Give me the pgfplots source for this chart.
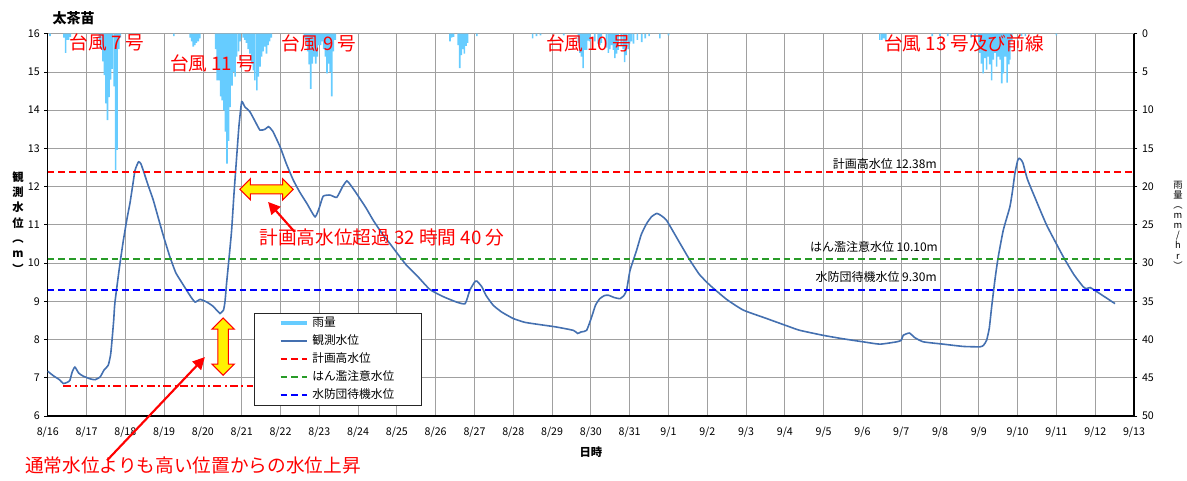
\documentclass[border=0pt]{standalone}
\usepackage{fontspec}
\setmainfont{Noto Sans CJK JP}
\usepackage{pgfplots}
\pgfplotsset{compat=1.18}
\usetikzlibrary{arrows.meta,shapes.arrows}
\definecolor{rainblue}{RGB}{102,204,255}
\definecolor{lvlblue}{RGB}{68,112,176}
\definecolor{refred}{RGB}{255,0,0}
\definecolor{refgreen}{RGB}{40,155,40}
\definecolor{refblue}{RGB}{0,0,255}
\definecolor{gridgray}{RGB}{160,160,160}
\begin{document}
\begin{tikzpicture}
\useasboundingbox (0,0) rectangle (890.25pt,360pt);
\begin{axis}[
  at={(35.8pt,48pt)}, anchor=south west,
  scale only axis, width=814.7pt, height=286.7pt,
  xmin=0, xmax=28, ymin=6, ymax=16,
  axis x line*=bottom, axis y line*=left,
  axis line style={black, line width=0.9pt},
  xtick={0,1,...,28},
  xticklabels={8/16,8/17,8/18,8/19,8/20,8/21,8/22,8/23,8/24,8/25,8/26,8/27,8/28,8/29,8/30,8/31,9/1,9/2,9/3,9/4,9/5,9/6,9/7,9/8,9/9,9/10,9/11,9/12,9/13},
  ytick={6,7,...,16},
  xtick style={draw=none},
  ytick style={black, line width=0.6pt},
  tick align=outside, major tick length=2.5pt,
  grid=major, grid style={gridgray, line width=0.6pt},
  tick label style={font=\fontsize{8}{9}\selectfont},
  xticklabel style={yshift=-2pt},
  /pgf/number format/assume math mode=true,
  clip=false,
  legend cell align=left,
  legend image code/.code={\draw[#1] (0pt,0pt) -- (20pt,0pt);},
  legend style={at={(axis cs:5.317,6.28)}, anchor=south west, draw=black!85, fill=white, font=\fontsize{8.8}{10}\selectfont, inner xsep=18pt, inner ysep=0.8pt, row sep=0pt, nodes={inner ysep=2.3pt}},
]
\addplot[color=lvlblue, line width=1.2pt, smooth, tension=0.3, forget plot] coordinates {
(0,7.17) (0.15,7.05) (0.3,6.95) (0.40,6.85) (0.50,6.88) (0.57,6.93) (0.63,7.15) (0.70,7.28) (0.80,7.12) (0.92,7.04) (1.1,6.97) (1.22,6.95) (1.35,7.02) (1.45,7.2) (1.56,7.33) (1.62,7.6) (1.65,7.9) (1.70,8.5) (1.73,8.95) (1.85,9.9) (1.95,10.6) (2.05,11.2) (2.12,11.57) (2.2,12.1) (2.25,12.43) (2.34,12.65) (2.40,12.6) (2.46,12.43) (2.6,12.0) (2.72,11.65) (2.9,11.0) (3.0,10.65) (3.15,10.16) (3.3,9.75) (3.45,9.5) (3.58,9.29) (3.7,9.1) (3.80,8.98) (3.93,9.05) (4.10,8.98) (4.25,8.88) (4.40,8.72) (4.44,8.68) (4.53,8.77) (4.57,9.0) (4.61,9.47) (4.68,10.2) (4.74,10.86) (4.80,11.8) (4.87,12.78) (4.93,13.6) (5.0,14.22) (5.08,14.09) (5.21,13.96) (5.35,13.7) (5.47,13.48) (5.6,13.5) (5.69,13.57) (5.8,13.45) (5.99,13.04) (6.15,12.6) (6.33,12.17) (6.5,11.85) (6.68,11.56) (6.89,11.21) (7.0,11.45) (7.10,11.75) (7.28,11.78) (7.45,11.72) (7.6,12.0) (7.71,12.15) (7.8,12.05) (7.96,11.82) (8.2,11.45) (8.39,11.12) (8.6,10.8) (8.82,10.51) (9.08,10.16) (9.25,9.94) (9.51,9.68) (9.85,9.31) (10.2,9.12) (10.54,8.98) (10.76,8.94) (10.88,9.29) (11.0,9.5) (11.06,9.53) (11.19,9.38) (11.3,9.15) (11.48,8.9) (11.7,8.72) (12.0,8.55) (12.3,8.45) (12.69,8.39) (13.1,8.33) (13.55,8.24) (13.66,8.16) (13.75,8.2) (13.89,8.24) (14.02,8.59) (14.12,8.9) (14.23,9.07) (14.35,9.15) (14.45,9.16) (14.6,9.1) (14.75,9.07) (14.85,9.15) (14.92,9.29) (15.01,9.81) (15.18,10.34) (15.3,10.75) (15.44,11.04) (15.57,11.22) (15.70,11.30) (15.8,11.25) (15.95,11.12) (16.25,10.6) (16.55,10.08) (16.8,9.7) (17.07,9.42) (17.5,9.05) (17.93,8.77) (18.53,8.55) (19.13,8.33) (19.39,8.24) (19.99,8.11) (20.5,8.02) (21.02,7.94) (21.45,7.88) (21.88,7.94) (22.0,7.98) (22.05,8.11) (22.21,8.17) (22.35,8.05) (22.57,7.94) (23.08,7.88) (23.6,7.82) (24.03,7.81) (24.12,7.85) (24.2,7.98) (24.27,8.3) (24.33,8.85) (24.42,9.6) (24.50,10.16) (24.63,10.86) (24.80,11.47) (24.87,11.9) (24.93,12.35) (25.0,12.68) (25.04,12.74) (25.09,12.7) (25.14,12.61) (25.25,12.2) (25.44,11.73) (25.75,10.99) (26.18,10.16) (26.45,9.7) (26.69,9.38) (26.78,9.33) (26.87,9.36) (27.12,9.20) (27.51,8.94)
};
\addplot[color=refred, line width=1.2pt, dash pattern=on 5pt off 3pt, forget plot] coordinates {(0,12.38) (28,12.38)};
\addplot[color=refgreen, line width=1.2pt, dash pattern=on 5pt off 3pt, forget plot] coordinates {(0,10.10) (28,10.10)};
\addplot[color=refblue, line width=1.2pt, dash pattern=on 5pt off 3pt, forget plot] coordinates {(0,9.30) (28,9.30)};
\addplot[color=refred, line width=1.1pt, dash pattern=on 6pt off 2.5pt on 1.5pt off 2.5pt, forget plot] coordinates {(0.4,6.78) (5.3,6.78)};
\addlegendimage{color=rainblue, line width=3.5pt}
\addlegendentry{雨量}
\addlegendimage{color=lvlblue, line width=1.3pt}
\addlegendentry{観測水位}
\addlegendimage{color=refred, line width=1.3pt, dash pattern=on 5pt off 3pt}
\addlegendentry{計画高水位}
\addlegendimage{color=refgreen, line width=1.3pt, dash pattern=on 5pt off 3pt}
\addlegendentry{はん濫注意水位}
\addlegendimage{color=refblue, line width=1.3pt, dash pattern=on 5pt off 3pt}
\addlegendentry{水防団待機水位}
% labels of reference lines
\node[anchor=base east, yshift=2.5pt, inner sep=0pt, font=\fontsize{9}{10}\selectfont] at (axis cs:22.92,12.38) {計画高水位 12.38m};
\node[anchor=base east, yshift=6pt, inner sep=0pt, font=\fontsize{9}{10}\selectfont] at (axis cs:22.95,10.10) {はん濫注意水位 10.10m};
\node[anchor=base east, yshift=6pt, inner sep=0pt, font=\fontsize{9}{10}\selectfont] at (axis cs:22.92,9.30) {水防団待機水位 9.30m};
% annotations
\node[double arrow, draw=refred, fill=yellow, line width=0.8pt, minimum height=40pt, inner xsep=0pt, inner ysep=3pt, double arrow head extend=4.5pt, double arrow head indent=0pt] at (axis cs:5.64,11.93) {};
\node[double arrow, rotate=90, draw=refred, fill=yellow, line width=0.8pt, minimum height=43pt, inner xsep=0pt, inner ysep=3.5pt, double arrow head extend=4.5pt, double arrow head indent=0pt] at (axis cs:4.52,7.815) {};
\draw[refred, line width=1.6pt, -{Triangle[length=9pt,width=9pt]}] (axis cs:6.37,10.81) -- (axis cs:5.68,11.60);
\draw[refred, line width=1.6pt, -{Triangle[length=9pt,width=9pt]}] (axis cs:1.53,4.84) -- (axis cs:4.05,7.54);
\node[anchor=west, text=refred, inner sep=0pt, font=\fontsize{14}{16}\selectfont] at (axis cs:5.45,10.68) {計画高水位超過 32 時間 40 分};
\node[anchor=west, text=refred, inner sep=0pt, font=\fontsize{14}{16}\selectfont] at (axis cs:-0.585,4.71) {通常水位よりも高い位置からの水位上昇};
% titles
\node[font=\fontsize{10.5}{12}\selectfont\bfseries] at (axis description cs:0.0238,1.041) {太茶苗};
\node[font=\fontsize{8.5}{11.5}\selectfont\bfseries, align=center, inner sep=0pt] at (axis description cs:-0.0273,0.507) {観\\測\\水\\位\\︵\\m\\︶};
\node[font=\fontsize{8.5}{10}\selectfont\bfseries] at (axis description cs:0.5,-0.094) {日時};
\end{axis}
\begin{axis}[
  at={(35.8pt,48pt)}, anchor=south west,
  scale only axis, width=814.7pt, height=286.7pt,
  xmin=0, xmax=28, ymin=0, ymax=50, y dir=reverse,
  axis x line=none, axis y line*=right,
  axis line style={black, line width=0.9pt},
  ytick={0,5,...,50},
  tick align=outside, major tick length=2.5pt,
  ytick style={black, line width=0.6pt},
  tick label style={font=\fontsize{8}{9}\selectfont},
  /pgf/number format/assume math mode=true,
  clip=false,
]
\addplot[ybar, bar width=0.042, bar shift=0pt, fill=rainblue, draw=none] coordinates {
(0.06,0.3) (0.42,0.5) (0.46,2.5) (0.50,0.8) (0.54,0.8) (0.58,0.4)
(1.33,1.0) (1.37,2.0) (1.42,3.6) (1.46,5.4) (1.50,9.1) (1.54,11.3) (1.58,8.3) (1.62,6.0) (1.66,4.6) (1.71,6.9) (1.75,17.8) (1.79,15.2) (1.83,2.0) (1.87,0.5)
(3.25,0.3) (3.67,0.5) (3.71,1.0) (3.75,1.7) (3.79,1.5) (3.83,1.2) (3.88,1.0) (3.92,0.6)
(4.33,2.0) (4.37,6.1) (4.41,6.1) (4.46,8.2) (4.50,8.7) (4.54,10.0) (4.58,12.8) (4.62,17.0) (4.66,14.0) (4.70,9.6) (4.75,6.8) (4.79,5.0) (4.83,5.6) (4.87,3.0) (4.92,2.3) (4.96,1.0)
(5.04,0.5) (5.08,0.8) (5.12,1.2) (5.17,2.0) (5.21,2.6) (5.26,3.9) (5.30,4.8) (5.34,6.1) (5.39,7.4) (5.43,5.6) (5.47,4.3) (5.51,3.0) (5.55,2.3) (5.60,1.7) (5.64,2.6) (5.68,1.5) (5.72,1.0) (5.76,0.5)
(6.62,0.5) (6.66,1.0) (6.70,2.3) (6.74,4.0) (6.78,7.2) (6.82,3.9) (6.86,3.0) (6.91,3.9) (6.95,3.0) (6.99,1.5) (7.03,1.5) (7.07,1.0) (7.11,2.0) (7.16,3.0) (7.20,5.2) (7.24,3.9) (7.28,5.0) (7.32,8.2) (7.36,2.3) (7.41,0.8)
(10.37,1.0) (10.41,0.5) (10.46,0.4) (10.58,1.5) (10.62,4.5) (10.66,2.8) (10.70,2.0) (10.74,2.6) (10.78,1.6) (10.82,1.2) (11.06,0.3)
(12.50,0.6) (12.60,0.3) (12.70,0.2) (13.30,0.2) (13.68,1.2) (13.72,2.5) (13.76,3.0) (13.80,4.5) (13.85,2.1) (13.89,2.1) (13.93,0.9) (13.97,1.0) (14.10,1.0) (14.19,1.3) (14.23,1.5) (14.27,1.2) (14.40,1.8) (14.45,2.5) (14.49,2.0) (14.53,1.5) (14.58,2.1) (14.62,3.2) (14.66,2.6) (14.70,2.1) (14.78,1.6) (14.83,2.0) (14.87,3.7) (14.91,2.8) (14.96,2.0) (15.00,1.3) (15.04,1.0) (15.10,1.3) (15.20,0.8) (15.31,1.1) (15.40,0.6) (15.50,0.3) (15.78,0.6) (16.00,0.2)
(21.45,0.8) (21.50,0.8) (21.55,0.6) (21.60,0.8) (22.80,0.3) (23.00,0.3) (23.20,0.3) (23.80,0.5) (23.90,0.5) (24.00,1.5) (24.03,2.5) (24.07,3.9) (24.11,5.2) (24.16,3.2) (24.20,4.7) (24.24,3.0) (24.28,4.0) (24.33,6.1) (24.37,3.4) (24.41,2.5) (24.46,4.3) (24.50,3.0) (24.55,3.4) (24.59,6.5) (24.63,5.2) (24.68,3.0) (24.73,6.4) (24.77,4.0) (24.80,3.4) (24.85,0.8) (25.10,0.3) (25.20,0.3) (26.00,0.2)
};
\node[text=refred, inner sep=0pt, font=\fontsize{14}{16}\selectfont] at (axis cs:1.53,1.1) {台風 7 号};
\node[text=refred, inner sep=0pt, font=\fontsize{14}{16}\selectfont] at (axis cs:4.25,3.84) {台風 11 号};
\node[text=refred, inner sep=0pt, font=\fontsize{14}{16}\selectfont] at (axis cs:6.99,1.2) {台風 9 号};
\node[text=refred, inner sep=0pt, font=\fontsize{14}{16}\selectfont] at (axis cs:13.94,1.2) {台風 10 号};
\node[text=refred, inner sep=0pt, font=\fontsize{14}{16}\selectfont] at (axis cs:23.62,1.2) {台風 13 号及び前線};
\node[font=\fontsize{7}{7.6}\selectfont, align=center, inner sep=0pt] at (axis description cs:1.0405,0.4996) {雨\\量\\︵\\m\\m\\/\\h\\r\\︶};
\end{axis}
\end{tikzpicture}
\end{document}
